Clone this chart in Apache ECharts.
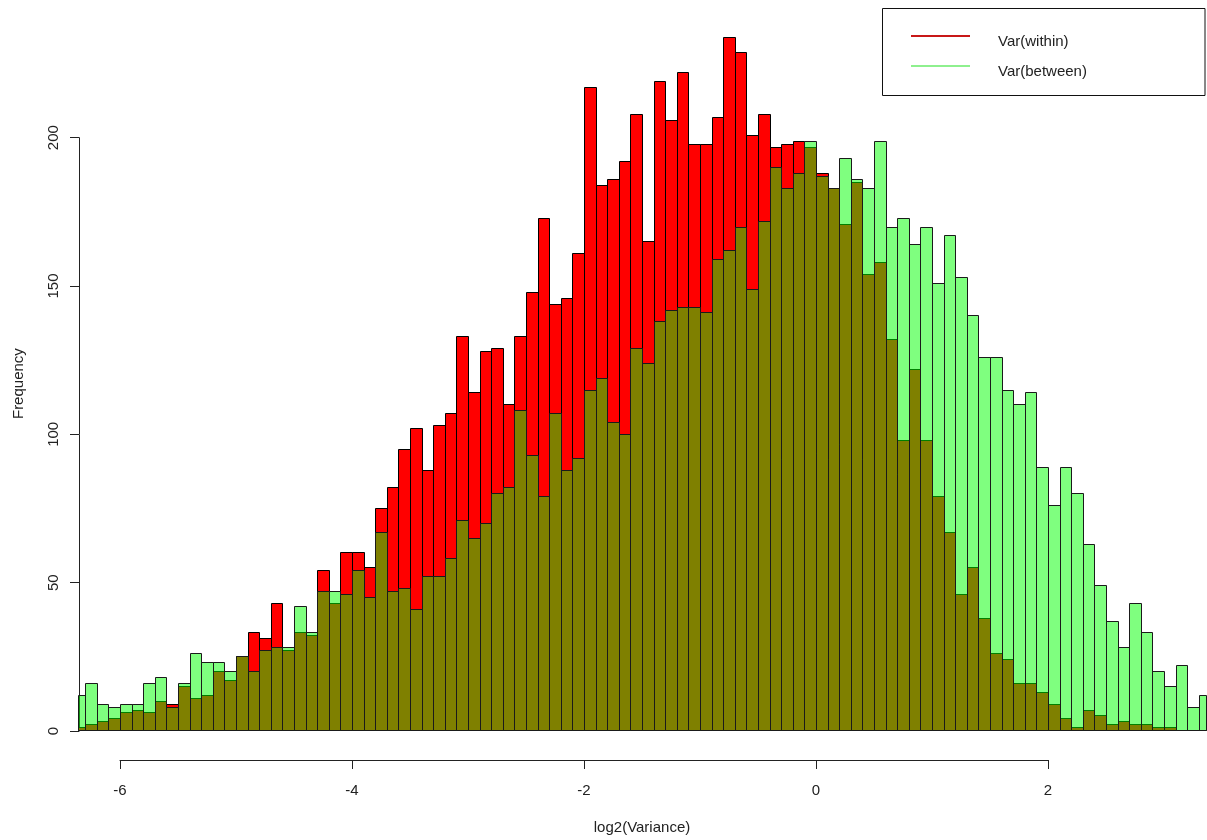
<!DOCTYPE html>
<html>
<head>
<meta charset="utf-8">
<script src="https://cdn.jsdelivr.net/npm/echarts@6/dist/echarts.min.js"></script>
<style>
html,body{margin:0;padding:0;background:#fff;}
#chart{width:1207px;height:840px;}
</style>
</head>
<body>
<div id="chart"></div>
<script>
// Bin start values (bin width 0.1)
var binStarts = [-6.4,-6.3,-6.2,-6.1,-6.0,-5.9,-5.8,-5.7,-5.6,-5.5,-5.4,-5.3,-5.2,-5.1,-5.0,-4.9,-4.8,-4.7,-4.6,-4.5,
  -4.4,-4.3,-4.2,-4.1,-4.0,-3.9,-3.8,-3.7,-3.6,-3.5,-3.4,-3.3,-3.2,-3.1,-3.0,-2.9,-2.8,-2.7,-2.6,-2.5,
  -2.4,-2.3,-2.2,-2.1,-2.0,-1.9,-1.8,-1.7,-1.6,-1.5,-1.4,-1.3,-1.2,-1.1,-1.0,-0.9,-0.8,-0.7,-0.6,-0.5,
  -0.4,-0.3,-0.2,-0.1,0.0,0.1,0.2,0.3,0.4,0.5,0.6,0.7,0.8,0.9,1.0,1.1,1.2,1.3,1.4,1.5,
  1.6,1.7,1.8,1.9,2.0,2.1,2.2,2.3,2.4,2.5,2.6,2.7,2.8,2.9,3.0,3.1,3.2,3.3];
var binWidth = 0.1;

// Var(within) counts
var within = [1,2,3,4,6,7,6,10,9,15,11,12,20,17,25,33,31,43,27,33,
  32,54,43,60,60,55,75,82,95,102,88,103,107,133,114,128,129,110,133,148,
  173,144,146,161,217,184,186,192,208,165,219,206,222,198,198,207,234,229,201,208,
  197,198,199,197,188,183,171,185,154,158,132,98,122,98,79,67,46,55,38,26,
  24,16,16,13,9,4,1,7,5,2,3,2,2,1,1,0,0,0];

// Var(between) counts
var between = [12,16,9,8,9,9,16,18,8,16,26,23,23,20,25,20,27,28,28,42,
  33,47,47,46,54,45,67,47,48,41,52,52,58,71,65,70,80,82,108,93,
  79,107,88,92,115,119,104,100,129,124,138,142,143,143,141,159,162,170,149,172,
  190,183,188,199,187,183,193,186,183,199,170,173,164,170,151,167,153,140,126,126,
  115,110,114,89,76,89,80,63,49,37,28,43,33,20,15,22,8,12];

var seriesNames = ['Var(within)', 'Var(between)'];
var legendColors = ['#c81818', '#8ef08e'];
var xTicks = [-6, 2];      // labelled x-axis extent
var yTicks = [0, 200];     // labelled y-axis extent
var xLabel = 'log2(Variance)';
var yLabel = 'Frequency';

var X_MIN = -6.36, X_MAX = 3.36;
var Y_MIN = -9.36, Y_MAX = 243.36;

function toData(vals) {
  return binStarts.map(function (s, i) { return [s, +(s + binWidth).toFixed(2), vals[i]]; });
}

function binRenderer(fill, stroke) {
  return function (params, api) {
    var x0 = Math.max(api.value(0), X_MIN);
    var x1 = Math.min(api.value(1), X_MAX);
    var v = api.value(2);
    var pTop = api.coord([x0, v]);
    var pBot = api.coord([x1, 0]);
    var l = Math.round(pTop[0]) + 0.5, r = Math.round(pBot[0]) + 0.5;
    var t = Math.round(pTop[1]) + 0.5, b = Math.round(pBot[1]) + 0.5;
    return {
      type: 'rect',
      shape: { x: l, y: t, width: r - l, height: b - t },
      style: { fill: fill, stroke: stroke, lineWidth: 1 }
    };
  };
}

var FONT = "'Liberation Sans', Arial, sans-serif";
var TXT = '#222';

var legendGraphics = [
  { type: 'rect', shape: { x: 882.5, y: 8.5, width: 322.5, height: 87 },
    style: { fill: '#fff', stroke: '#111', lineWidth: 1 }, silent: true, z: 5 }
];
seriesNames.forEach(function (nm, i) {
  var yLine = 36 + i * 30;
  legendGraphics.push({ type: 'line', shape: { x1: 911, y1: yLine, x2: 970, y2: yLine },
    style: { stroke: legendColors[i], lineWidth: 2 }, silent: true, z: 6 });
  legendGraphics.push({ type: 'text', x: 998, y: yLine + 5.5,
    style: { text: nm, font: "15px 'Liberation Sans', Arial, sans-serif", fill: TXT,
      textVerticalAlign: 'middle', verticalAlign: 'middle', textAlign: 'left', align: 'left' },
    silent: true, z: 6 });
});

var chart = echarts.init(document.getElementById('chart'), null, { renderer: 'canvas' });
chart.setOption({
  animation: false,
  backgroundColor: '#fff',
  textStyle: { fontFamily: FONT },
  grid: [
    { left: 78.2, right: 1.2, top: 9.2, bottom: 81.2 },
    { left: 79, width: 100, top: 137.7, bottom: 109 },
    { left: 120, right: 159, bottom: 80, height: 20 }
  ],
  xAxis: [
    { gridIndex: 0, type: 'value', min: X_MIN, max: X_MAX,
      axisLine: { show: false }, axisTick: { show: false }, axisLabel: { show: false }, splitLine: { show: false },
      name: xLabel, nameLocation: 'middle', nameGap: 62,
      nameTextStyle: { fontFamily: FONT, fontSize: 15, color: TXT } },
    { gridIndex: 1, type: 'value', show: false },
    { gridIndex: 2, type: 'value', min: xTicks[0], max: xTicks[1], interval: 2,
      axisLine: { show: true, onZero: false, lineStyle: { color: '#222', width: 1 } },
      axisTick: { show: true, length: 9, lineStyle: { color: '#222', width: 1 } },
      axisLabel: { show: true, margin: 23, fontFamily: FONT, fontSize: 15, color: TXT },
      splitLine: { show: false } }
  ],
  yAxis: [
    { gridIndex: 0, type: 'value', min: Y_MIN, max: Y_MAX,
      axisLine: { show: false }, axisTick: { show: false }, axisLabel: { show: false }, splitLine: { show: false },
      name: yLabel, nameLocation: 'middle', nameGap: 52, nameRotate: 90,
      nameTextStyle: { fontFamily: FONT, fontSize: 15, color: TXT } },
    { gridIndex: 1, type: 'value', min: yTicks[0], max: yTicks[1], interval: 50,
      axisLine: { show: true, onZero: false, lineStyle: { color: '#222', width: 1 } },
      axisTick: { show: true, length: 9, lineStyle: { color: '#222', width: 1 } },
      axisLabel: { show: true, rotate: 90, margin: 18, fontFamily: FONT, fontSize: 15, color: TXT },
      splitLine: { show: false } },
    { gridIndex: 2, type: 'value', show: false }
  ],
  graphic: legendGraphics,
  series: [
    { name: seriesNames[0], type: 'custom', xAxisIndex: 0, yAxisIndex: 0,
      renderItem: binRenderer('#ff0000', '#000'),
      encode: { x: [0, 1], y: 2 },
      itemStyle: { color: '#ff0000' },
      data: toData(within), z: 2 },
    { name: seriesNames[1], type: 'custom', xAxisIndex: 0, yAxisIndex: 0,
      renderItem: binRenderer('rgba(0,255,0,0.5)', '#1a1a1a'),
      encode: { x: [0, 1], y: 2 },
      itemStyle: { color: '#80ff80' },
      data: toData(between), z: 3 }
  ]
});
</script>
</body>
</html>
